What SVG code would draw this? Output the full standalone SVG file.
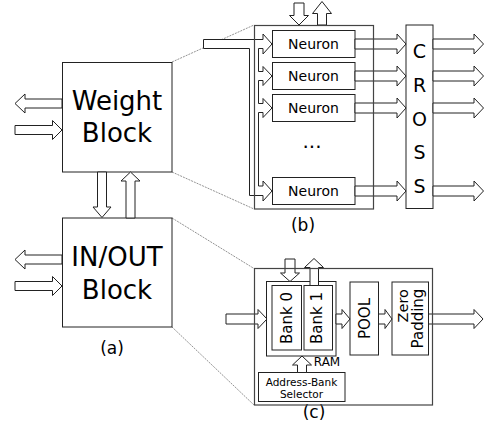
<svg xmlns="http://www.w3.org/2000/svg" width="489" height="432" viewBox="0 0 489 432">
<style>
.box{fill:#fff;stroke:#222;stroke-width:1}
.frame{fill:none;stroke:#444;stroke-width:1.2}
.arr{fill:#fff;stroke:#222;stroke-width:1;stroke-linejoin:miter}
.zoom{fill:none;stroke:#777;stroke-width:0.8;stroke-dasharray:2,1}
text{font-family:"DejaVu Sans",sans-serif;fill:#000}
.big{font-size:26px;text-anchor:middle}
.neu{font-size:14px;text-anchor:middle}
.cross{font-size:19px;text-anchor:middle}
.cap{font-size:17px;text-anchor:middle}
.rot{font-size:15px;text-anchor:middle}
.sm{font-size:10.5px;text-anchor:middle}
</style>
<rect width="489" height="432" fill="#fff"/>

<g id="zoomlines">
<line class="zoom" x1="172" y1="62" x2="254" y2="25"/>
<line class="zoom" x1="172" y1="172" x2="254" y2="209"/>
<line class="zoom" x1="172" y1="218" x2="254" y2="268.5"/>
<line class="zoom" x1="172" y1="327" x2="254" y2="405"/>
</g>

<g id="weight-block">
<rect class="box" x="62.5" y="62.5" width="109.5" height="109.5"/>
<text class="big" x="117" y="110">Weight</text>
<text class="big" x="117" y="142">Block</text>
</g>

<g id="inout-block">
<rect class="box" x="62.5" y="218" width="109.5" height="109"/>
<text class="big" x="117" y="266">IN/OUT</text>
<text class="big" x="117" y="299">Block</text>
</g>

<text id="cap-a" class="cap" x="112" y="354">(a)</text>

<g id="panel-b">
<g id="neuron1"><rect class="box" x="272.5" y="30.5" width="82.5" height="27"/><text class="neu" x="313.5" y="49">Neuron</text></g>
<g id="neuron2"><rect class="box" x="272.5" y="62.5" width="82.5" height="27"/><text class="neu" x="313.5" y="81">Neuron</text></g>
<g id="neuron3"><rect class="box" x="272.5" y="94.5" width="82.5" height="27"/><text class="neu" x="313.5" y="113">Neuron</text></g>
<g id="neuron4"><rect class="box" x="272.5" y="177.5" width="82.5" height="27"/><text class="neu" x="313.5" y="196">Neuron</text></g>
<text id="dots" x="312" y="148" font-size="20" text-anchor="middle">...</text>
<g id="cross"><rect class="box" x="406" y="25" width="27" height="183.5"/>
<text class="cross" x="419.5" y="58">C</text>
<text class="cross" x="419.5" y="91.8">R</text>
<text class="cross" x="419.5" y="125.5">O</text>
<text class="cross" x="419.5" y="159.3">S</text>
<text class="cross" x="419.5" y="193">S</text>
</g>
<text id="cap-b" class="cap" x="303" y="231">(b)</text>
</g>

<g id="panel-c">
<g id="ram"><rect class="box" x="266.5" y="281.5" width="69.5" height="74.5"/></g>
<g id="bank0"><rect class="box" x="272" y="285.5" width="29.5" height="64.5"/><text class="rot" transform="translate(292,318) rotate(-90)">Bank 0</text></g>
<g id="bank1"><rect class="box" x="304" y="285.5" width="28.5" height="64.5"/><text class="rot" transform="translate(322,318) rotate(-90)">Bank 1</text></g>
<text id="ram-label" x="327" y="366" font-size="12" text-anchor="middle">RAM</text>
<g id="pool"><rect class="box" x="350" y="282" width="28.5" height="73"/><text class="rot" transform="translate(370,318.5) rotate(-90)">POOL</text></g>
<g id="zero"><rect class="box" x="392" y="282" width="36.5" height="73"/>
<text font-size="14.5" text-anchor="end" transform="translate(408,289) rotate(-90)">Zero</text>
<text class="rot" font-size="14.5" transform="translate(423,318.5) rotate(-90)">Padding</text></g>
<g id="selector"><rect class="box" x="258.5" y="372.5" width="86.5" height="29"/>
<text class="sm" x="301.5" y="386">Address-Bank</text>
<text class="sm" x="301.5" y="397.5">Selector</text></g>
<text id="cap-c" class="cap" x="314" y="418">(c)</text>
</g>

<g id="connectors">
<polygon class="arr" points="62,99 25,99 25,94 15,103.5 25,113 25,108 62,108"/>
<polygon class="arr" points="15,125.5 52.5,125.5 52.5,120.5 62,130 52.5,139.5 52.5,134.5 15,134.5"/>
<polygon class="arr" points="62,255 25,255 25,250 15,259.5 25,269 25,264 62,264"/>
<polygon class="arr" points="15,281.5 52.5,281.5 52.5,276.5 62,286 52.5,295.5 52.5,290.5 15,290.5"/>
<polygon class="arr" points="97.5,172 97.5,207 93,207 102,217.5 111,207 106.5,207 106.5,172"/>
<polygon class="arr" points="126,218 126,181 121,181 130.5,172 140,181 135,181 135,218"/>
<polygon class="arr" points="294,3 294,15.5 289.5,15.5 299,25 308.5,15.5 304,15.5 304,3"/>
<polygon class="arr" points="317.5,25 317.5,13.5 312.5,13.5 322,1.5 331.5,13.5 326.5,13.5 326.5,25"/>
<path class="arr" d="M203.5,39.5 H263 V34 L272,44 L263,54 V48.5 H258.5 V71.5 H263 V66.5 L272,76 L263,85.5 V80.5 H258.5 V103.5 H263 V98.5 L272,108 L263,117.5 V112.5 H258.5 V186 H263 V181 L272,191 L263,201 V195.5 H249.5 V48.5 H203.5 Z"/>
<polygon class="arr" points="355,39 397,39 397,34 406,44 397,54 397,49 355,49"/>
<polygon class="arr" points="355,71 397,71 397,66 406,76 397,86 397,81 355,81"/>
<polygon class="arr" points="355,103 397,103 397,98 406,108 397,118 397,113 355,113"/>
<polygon class="arr" points="355,186 397,186 397,181 406,191 397,201 397,196 355,196"/>
<polygon class="arr" points="433,39 474,39 474,34 483.5,44 474,54 474,49 433,49"/>
<polygon class="arr" points="433,71 474,71 474,66 483.5,76 474,86 474,81 433,81"/>
<polygon class="arr" points="433,103 474,103 474,98 483.5,108 474,118 474,113 433,113"/>
<polygon class="arr" points="433,186 474,186 474,181 483.5,191 474,201 474,196 433,196"/>
<polygon class="arr" points="226,314 258,314 258,309.5 267,319 258,328.5 258,324 226,324"/>
<polygon class="arr" points="336,314 342,314 342,309.5 350,319 342,328.5 342,324 336,324"/>
<polygon class="arr" points="378.5,314 385,314 385,309.5 392,319 385,328.5 385,324 378.5,324"/>
<polygon class="arr" points="428.5,314 474,314 474,309.5 483,319 474,328.5 474,324 428.5,324"/>
<polygon class="arr" points="285,259 285,273 280.5,273 290,281.5 299.5,273 295,273 295,259"/>
<polygon class="arr" points="310,285.5 310,267.5 304.5,267.5 314,258.5 323.5,267.5 318.5,267.5 318.5,285.5"/>
<polygon class="arr" points="297.5,372.5 297.5,365 292.5,365 302,356 311.5,365 306.5,365 306.5,372.5"/>
</g>

<g id="frames">
<rect class="frame" x="254.5" y="25.5" width="119" height="183.5"/>
<rect class="frame" x="254.5" y="268.5" width="178" height="136.5"/>
</g>
</svg>
